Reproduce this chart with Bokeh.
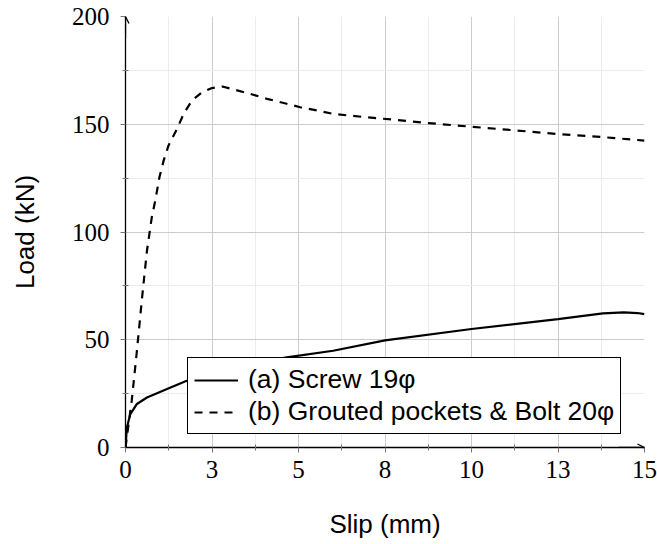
from bokeh.plotting import figure
from bokeh.models import (Range1d, FixedTicker, Legend, LegendItem, Arrow, OpenHead)
from bokeh.embed import file_html
from bokeh.resources import INLINE

# ---- data ----
slip_a = [0, 0.04, 0.14, 0.33, 0.62, 1.2, 1.77, 2.5, 3.5, 4.66, 6.0, 7.5, 10.0, 12.5, 13.8, 14.4, 14.8, 15.0]
load_a = [0, 9.3, 15.5, 20.2, 23.2, 27.1, 31.0, 34.3, 38.3, 41.8, 44.9, 49.7, 55.0, 59.6, 62.2, 62.7, 62.4, 61.9]

slip_b = [0, 0.09, 0.18, 0.33, 0.47, 0.62, 0.76, 0.86, 0.98, 1.1, 1.24, 1.49, 1.68, 1.92, 2.21, 2.5,
          2.8, 3.07, 3.6, 4.09, 4.66, 5.05, 5.53, 6.01, 6.98, 7.84, 8.71, 9.96, 11.31, 12.47, 13.81, 15.0]
load_b = [0, 10.9, 21.7, 44.9, 68.1, 91.3, 106.8, 114.6, 125.4, 133.0, 140.0, 147.9, 154.8, 161.0, 164.8, 166.8,
          167.5, 166.4, 164.1, 161.8, 159.5, 157.9, 156.4, 154.8, 153.2, 152.0, 150.6, 148.9, 147.1, 145.5, 144.0, 142.4]

series_labels = ["(a) Screw 19\u03c6", "(b) Grouted pockets & Bolt 20\u03c6"]

x_ticks = [0, 2.5, 5, 7.5, 10, 12.5, 15]
x_tick_labels = ["0", "3", "5", "8", "10", "13", "15"]
x_minor = [1.25, 3.75, 6.25, 8.75, 11.25, 13.75]
y_ticks = [0, 50, 100, 150, 200]
y_tick_labels = ["0", "50", "100", "150", "200"]
y_minor = [25, 75, 125, 175]

x_min, x_max = 0, 15
y_min, y_max = 0, 200

# ---- figure ----
p = figure(width=657, height=544, output_backend="svg", toolbar_location=None,
           x_range=Range1d(x_min, x_max), y_range=Range1d(y_min, y_max),
           min_border_left=125, min_border_right=13, min_border_top=16, min_border_bottom=97)
p.outline_line_color = None
p.background_fill_color = "white"
p.border_fill_color = "white"

p.xaxis.ticker = FixedTicker(ticks=x_ticks, minor_ticks=x_minor)
p.yaxis.ticker = FixedTicker(ticks=y_ticks, minor_ticks=y_minor)
p.xaxis.major_label_overrides = {t: l for t, l in zip(x_ticks, x_tick_labels)}
p.yaxis.major_label_overrides = {t: l for t, l in zip(y_ticks, y_tick_labels)}

for g in (p.xgrid, p.ygrid):
    g.grid_line_color = "#cccccc"
    g.grid_line_width = 1
    g.minor_grid_line_color = "#ececec"
    g.minor_grid_line_width = 1

for ax in (p.xaxis, p.yaxis):
    ax.axis_line_color = "black"
    ax.axis_line_width = 1.3
    ax.major_tick_line_color = "#777777"
    ax.minor_tick_line_color = "#777777"
    ax.major_tick_out = 5
    ax.major_tick_in = 0
    ax.minor_tick_out = 3
    ax.minor_tick_in = 3
    ax.major_label_text_font = "Liberation Serif"
    ax.major_label_text_font_size = "25px"
    ax.major_label_text_color = "black"
    ax.axis_label_text_font = "Liberation Sans"
    ax.axis_label_text_font_size = "26px"
    ax.axis_label_text_font_style = "normal"
    ax.axis_label_text_color = "black"

p.xaxis.axis_label = "Slip (mm)"
p.yaxis.axis_label = "Load (kN)"
p.xaxis.major_label_standoff = 8
p.xaxis.axis_label_standoff = 28
p.yaxis.major_label_standoff = 11
p.yaxis.axis_label_standoff = 29

# axis arrows
p.add_layout(Arrow(end=OpenHead(size=7, line_width=1.3, line_color="black"),
                   x_start=x_min, y_start=y_max * 0.95, x_end=x_min, y_end=y_max,
                   line_color="black", line_width=1.3))
p.add_layout(Arrow(end=OpenHead(size=7, line_width=1.3, line_color="black"),
                   x_start=x_max * 0.95, y_start=y_min, x_end=x_max, y_end=y_min,
                   line_color="black", line_width=1.3))

ra = p.line(slip_a, load_a, line_color="black", line_width=2.2)
rb = p.line(slip_b, load_b, line_color="black", line_width=2.2, line_dash="8 7")

legend = Legend(items=[LegendItem(label=series_labels[0], renderers=[ra]),
                       LegendItem(label=series_labels[1], renderers=[rb])],
                location=(62, 13))
legend.label_text_font = "Liberation Sans"
legend.label_text_font_size = "26.5px"
legend.label_text_color = "black"
legend.glyph_width = 44
legend.glyph_height = 28
legend.label_height = 28
legend.label_standoff = 10
legend.padding = 6
legend.spacing = 1
legend.margin = 0
legend.border_line_color = "black"
legend.border_line_alpha = 1
legend.border_line_width = 1.3
legend.background_fill_alpha = 1
p.add_layout(legend, "center")

open("out.html", "w").write(file_html(p, INLINE))
